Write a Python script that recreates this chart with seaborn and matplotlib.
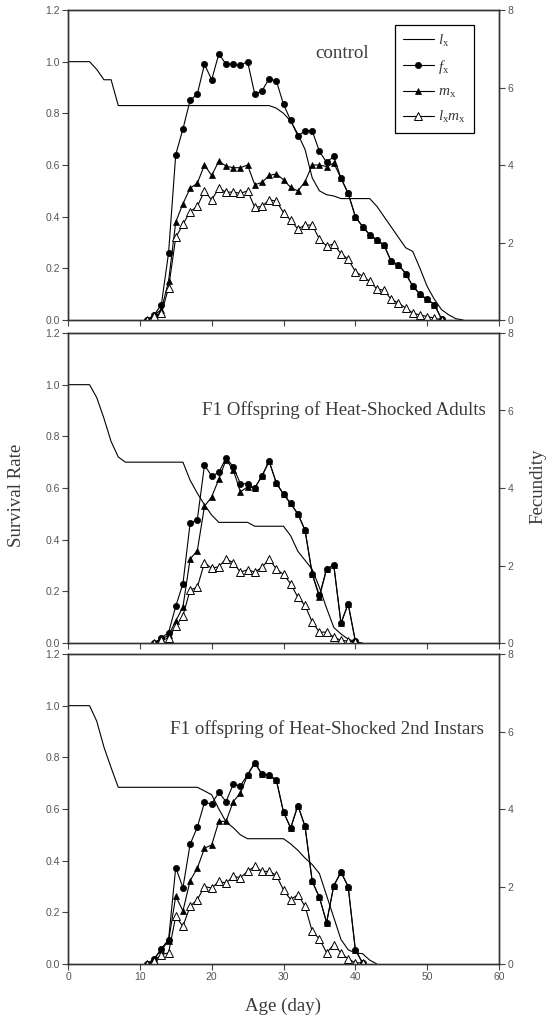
import numpy as np
import pandas as pd
import matplotlib
matplotlib.use("Agg")
import matplotlib.pyplot as plt
import seaborn as sns

sns.set_style("ticks")
plt.rcParams['font.family'] = ['Liberation Sans', 'DejaVu Sans']
plt.rcParams['mathtext.fontset'] = 'custom'
plt.rcParams['mathtext.rm'] = 'Liberation Serif'
plt.rcParams['mathtext.it'] = 'Liberation Serif:italic'

# ---- control ----
lx_days_ctrl = list(range(0, 56))
lx_ctrl = [1.0, 1.0, 1.0, 1.0, 0.97, 0.93, 0.93, 0.83, 0.83, 0.83,
           0.83, 0.83, 0.83, 0.83, 0.83, 0.83, 0.83, 0.83, 0.83, 0.83,
           0.83, 0.83, 0.83, 0.83, 0.83, 0.83, 0.83, 0.83, 0.83, 0.82,
           0.80, 0.77, 0.72, 0.66, 0.55, 0.50, 0.485, 0.48, 0.47, 0.47,
           0.47, 0.47, 0.47, 0.44, 0.40, 0.36, 0.32, 0.28, 0.265, 0.20,
           0.13, 0.08, 0.04, 0.02, 0.005, 0.0]
fec_days_ctrl = list(range(11, 53))
fx_ctrl = [0, 0.13, 0.40, 1.73, 4.27, 4.93, 5.67, 5.83, 6.60, 6.20,
           6.87, 6.60, 6.60, 6.57, 6.67, 5.83, 5.91, 6.23, 6.17, 5.57,
           5.15, 4.75, 4.88, 4.88, 4.35, 4.07, 4.22, 3.66, 3.27, 2.67,
           2.41, 2.20, 2.07, 1.93, 1.51, 1.43, 1.20, 0.87, 0.67, 0.53,
           0.40, 0.03]
mx_ctrl = [0, 0.13, 0.27, 1.00, 2.53, 3.00, 3.40, 3.53, 4.00, 3.73,
           4.10, 3.97, 3.93, 3.93, 4.00, 3.49, 3.55, 3.73, 3.77, 3.62,
           3.42, 3.33, 3.57, 4.00, 4.00, 3.96, 4.05, 3.66, 3.27, 2.67,
           2.41, 2.20, 2.07, 1.93, 1.51, 1.43, 1.20, 0.87, 0.67, 0.53,
           0.40, 0.03]
lxmx_ctrl = [0, 0.10, 0.17, 0.83, 2.13, 2.47, 2.80, 2.93, 3.33, 3.10,
             3.40, 3.30, 3.30, 3.27, 3.33, 2.91, 2.93, 3.10, 3.07, 2.77,
             2.57, 2.35, 2.45, 2.45, 2.09, 1.91, 1.96, 1.71, 1.57, 1.25,
             1.13, 1.00, 0.80, 0.77, 0.53, 0.44, 0.31, 0.18, 0.13, 0.09,
             0.05, 0]

# ---- F1 offspring of heat-shocked adults ----
lx_days_adult = list(range(0, 42))
lx_adult = [1.0, 1.0, 1.0, 1.0, 0.95, 0.87, 0.78, 0.72, 0.70, 0.70,
            0.70, 0.70, 0.70, 0.70, 0.70, 0.70, 0.70, 0.63, 0.58, 0.535,
            0.495, 0.467, 0.467, 0.467, 0.467, 0.467, 0.452, 0.452, 0.452, 0.452,
            0.452, 0.415, 0.355, 0.32, 0.285, 0.215, 0.135, 0.06, 0.035, 0.015,
            0.005, 0.0]
fec_days_adult = list(range(12, 41))
fx_adult = [0, 0.13, 0.27, 0.95, 1.53, 3.09, 3.18, 4.59, 4.31, 4.40,
            4.78, 4.55, 4.11, 4.11, 4.00, 4.31, 4.69, 4.13, 3.84, 3.60,
            3.33, 2.91, 1.78, 1.23, 1.91, 2.01, 0.51, 1.01, 0.05]
mx_adult = [0, 0.10, 0.20, 0.57, 0.93, 2.17, 2.38, 3.53, 3.77, 4.23,
            4.73, 4.47, 3.90, 4.03, 4.00, 4.31, 4.69, 4.13, 3.84, 3.60,
            3.33, 2.91, 1.78, 1.18, 1.91, 2.01, 0.51, 1.01, 0.05]
lxmx_adult = [0, 0.07, 0.13, 0.43, 0.70, 1.37, 1.44, 2.07, 1.93, 1.97,
              2.17, 2.07, 1.83, 1.89, 1.83, 1.95, 2.17, 1.91, 1.77, 1.53,
              1.18, 0.97, 0.54, 0.28, 0.28, 0.15, 0.07, 0.05, 0.03]

# ---- F1 offspring of heat-shocked 2nd instars ----
lx_days_instar = list(range(0, 44))
lx_instar = [1.0, 1.0, 1.0, 1.0, 0.94, 0.84, 0.76, 0.684, 0.684, 0.684,
             0.684, 0.684, 0.684, 0.684, 0.684, 0.684, 0.684, 0.684, 0.684, 0.67,
             0.655, 0.60, 0.55, 0.528, 0.50, 0.485, 0.485, 0.485, 0.485, 0.485,
             0.485, 0.465, 0.44, 0.41, 0.385, 0.35, 0.265, 0.18, 0.095, 0.055,
             0.043, 0.04, 0.015, 0.0]
fec_days_instar = list(range(11, 42))
fx_instar = [0, 0.13, 0.40, 0.63, 2.49, 1.97, 3.09, 3.53, 4.17, 4.13,
             4.43, 4.19, 4.64, 4.60, 4.88, 5.20, 4.90, 4.87, 4.75, 3.92,
             3.51, 4.09, 3.55, 2.13, 1.72, 1.07, 2.02, 2.37, 2.00, 0.37,
             0.03]
mx_instar = [0, 0.13, 0.37, 0.59, 1.75, 1.37, 2.15, 2.47, 2.99, 3.07,
             3.68, 3.68, 4.19, 4.41, 4.88, 5.18, 4.90, 4.87, 4.75, 3.92,
             3.51, 4.09, 3.55, 2.13, 1.72, 1.07, 2.02, 2.37, 2.00, 0.37,
             0.03]
lxmx_instar = [0, 0.09, 0.24, 0.29, 1.23, 0.97, 1.49, 1.66, 2.00, 1.96,
               2.13, 2.09, 2.26, 2.23, 2.39, 2.52, 2.39, 2.39, 2.29, 1.91,
               1.66, 1.79, 1.49, 0.84, 0.65, 0.29, 0.50, 0.29, 0.13, 0.03,
               0.03]

panel_titles = ["control", "F1 Offspring of Heat-Shocked Adults",
                "F1 offspring of Heat-Shocked 2nd Instars"]
legend_labels = [r"$l_\mathrm{x}$", r"$f_\mathrm{x}$", r"$m_\mathrm{x}$",
                 r"$l_\mathrm{x}m_\mathrm{x}$"]

panels = [
    (lx_days_ctrl, lx_ctrl, fec_days_ctrl, fx_ctrl, mx_ctrl, lxmx_ctrl),
    (lx_days_adult, lx_adult, fec_days_adult, fx_adult, mx_adult, lxmx_adult),
    (lx_days_instar, lx_instar, fec_days_instar, fx_instar, mx_instar, lxmx_instar),
]

W, H = 558, 1021
fig = plt.figure(figsize=(W / 100, H / 100), dpi=100)

# pixel boxes of the three panels (top, bottom)
boxes = [(10, 320), (333, 643), (654, 964)]
ax_left, ax_right = 68, 499

serif = ['Liberation Serif', 'DejaVu Serif']
txt_col = '#3a3a3a'
tick_col = '#555555'

text_pos = [(38.2, 1.03, 'center'), (58.2, 0.90, 'right'), (57.9, 0.91, 'right')]

for i, (lxd, lxv, fd, fxv, mxv, lmv) in enumerate(panels):
    top, bot = boxes[i]
    ax = fig.add_axes([ax_left / W, 1 - bot / H, (ax_right - ax_left) / W, (bot - top) / H])
    ax2 = ax.twinx()

    df_lx = pd.DataFrame({"day": lxd, "lx": lxv})
    df_f = pd.DataFrame({"day": fd, "fx": fxv, "mx": mxv, "lxmx": lmv})

    sns.lineplot(data=df_lx, x="day", y="lx", ax=ax, color="black", lw=0.8,
                 label=legend_labels[0] if i == 0 else None, legend=False)
    sns.lineplot(data=df_f, x="day", y="fx", ax=ax2, color="black", lw=0.8,
                 marker="o", markersize=4.5, markeredgecolor="black",
                 markerfacecolor="black", markeredgewidth=0.5,
                 label=legend_labels[1], legend=False)
    sns.lineplot(data=df_f, x="day", y="mx", ax=ax2, color="black", lw=0.8,
                 marker="^", markersize=5, markeredgecolor="black",
                 markerfacecolor="black", markeredgewidth=0.5,
                 label=legend_labels[2], legend=False)
    sns.lineplot(data=df_f, x="day", y="lxmx", ax=ax2, color="black", lw=0.8,
                 marker="^", markersize=5.5, markeredgecolor="black",
                 markerfacecolor="white", markeredgewidth=0.7,
                 label=legend_labels[3], legend=False)

    ax.set_xlim(0, 60)
    ax.set_ylim(0, 1.2)
    ax2.set_ylim(0, 8)
    ax.set_xticks(np.arange(0, 61, 10))
    ax.set_yticks(np.arange(0, 1.21, 0.2))
    ax.set_yticklabels([f"{v:.1f}" for v in np.arange(0, 1.21, 0.2)])
    ax2.set_yticks(np.arange(0, 9, 2))
    ax.set_xlabel("")
    ax.set_ylabel("")
    ax2.set_ylabel("")

    for a in (ax, ax2):
        a.tick_params(direction="out", length=4, width=0.8, color="#444444",
                      labelsize=7.5, labelcolor=tick_col, pad=2)
        for s in a.spines.values():
            s.set_visible(True)
            s.set_linewidth(1.0)
            s.set_color("#333333")
    if i < 2:
        ax.set_xticklabels([])
    ax2.set_xticks(np.arange(0, 61, 10))

    tx, ty, ha = text_pos[i]
    ax.text(tx, ty, panel_titles[i], ha=ha, va="center", fontsize=13.6,
            family=serif, color=txt_col)

    if i == 0:
        h1, l1 = ax.get_legend_handles_labels()
        h2, l2 = ax2.get_legend_handles_labels()
        leg = ax2.legend(h1 + h2, l1 + l2, loc="upper right",
                         bbox_to_anchor=(0.942, 0.952), borderaxespad=0,
                         fontsize=11, handlelength=2.0, labelspacing=0.6,
                         borderpad=0.5, handletextpad=0.3, fancybox=False,
                         framealpha=1)
        leg.get_frame().set_edgecolor("black")
        leg.get_frame().set_linewidth(0.9)
        for t in leg.get_texts():
            t.set_color(txt_col)

fig.text(17 / W, 1 - 495 / H, "Survival Rate", rotation=90, ha="center", va="center",
         fontsize=13.6, family=serif, color=txt_col)
fig.text(538 / W, 1 - 486 / H, "Fecundity", rotation=90, ha="center", va="center",
         fontsize=13.6, family=serif, color=txt_col)
fig.text(283 / W, 1 - 1006 / H, "Age (day)", ha="center", va="center",
         fontsize=13.6, family=serif, color=txt_col)

fig.savefig("out.png", dpi=100)
